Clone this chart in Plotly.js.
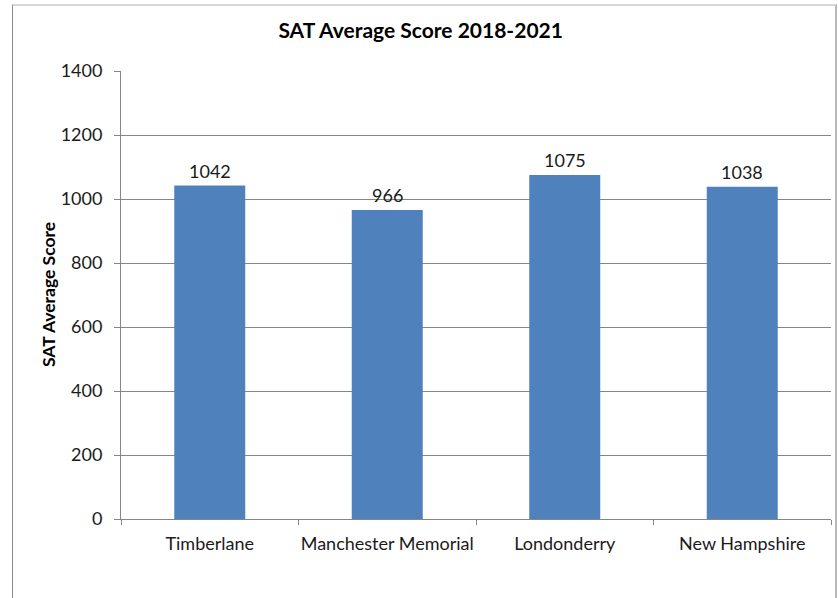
<!DOCTYPE html>
<html>
<head>
<meta charset="utf-8">
<script src="https://cdn.plot.ly/plotly-3.0.1.min.js"></script>
<style>
  html, body { margin: 0; padding: 0; background: #ffffff; }
  #wrap { position: relative; width: 838px; height: 598px; overflow: hidden; }
  #chart { position: absolute; left: 0; top: 0; width: 838px; height: 598px; }
  #frame { position: absolute; left: 12px; top: 4px; width: 822px; height: 640px;
           border-top: 2px solid #d6d6d6; border-left: 1px solid #8c8c8c; border-right: 2px solid #b8b8b8;
           pointer-events: none; }
</style>
</head>
<body>
<div id="wrap">
  <div id="chart"></div>
  <div id="frame"></div>
</div>
<script>
const categories = ["Timberlane", "Manchester Memorial", "Londonderry", "New Hampshire"];
const scores = [1042, 966, 1075, 1038];
const yTicks = [0, 200, 400, 600, 800, 1000, 1200, 1400];

const FONT = "Lato, 'DejaVu Sans', sans-serif";

const trace = {
  type: "bar",
  x: categories,
  y: scores,
  width: 0.4,
  marker: { color: "#4f81bd", line: { width: 0 } },
  hoverinfo: "skip"
};

const valueLabels = categories.map((c, i) => ({
  text: String(scores[i]),
  xref: "x", x: c,
  yref: "y", y: scores[i],
  xanchor: "center", yanchor: "bottom",
  yshift: 2,
  showarrow: false,
  font: { family: FONT, size: 18, color: "#1a1a1a" }
}));

const layout = {
  width: 838,
  height: 598,
  margin: { l: 121, r: 7, t: 71, b: 79 },
  paper_bgcolor: "rgba(0,0,0,0)",
  plot_bgcolor: "#ffffff",
  showlegend: false,
  title: {
    text: "<b>SAT Average Score 2018-2021</b>",
    font: { family: FONT, size: 21, color: "#000000" },
    xref: "container", x: 0.502, xanchor: "center",
    yref: "container", y: 0.948, yanchor: "middle"
  },
  xaxis: {
    type: "category",
    range: [-0.5, 3.5],
    showgrid: false,
    showline: true,
    linecolor: "#868686",
    linewidth: 1,
    ticks: "outside",
    tickson: "boundaries",
    ticklen: 5,
    tickcolor: "#868686",
    tickangle: 0,
    ticklabelstandoff: 8,
    tickfont: { family: FONT, size: 18, color: "#1a1a1a" },
    fixedrange: true
  },
  yaxis: {
    range: [0, 1400],
    tickvals: yTicks,
    ticktext: yTicks.map(String),
    showgrid: true,
    gridcolor: "#868686",
    gridwidth: 1,
    zeroline: false,
    showline: true,
    linecolor: "#868686",
    linewidth: 1,
    ticks: "outside",
    ticklen: 6,
    tickcolor: "#868686",
    ticklabelstandoff: 8,
    tickfont: { family: FONT, size: 18, color: "#1a1a1a" },
    fixedrange: true
  },
  annotations: [{
    text: "<b>SAT Average Score</b>",
    textangle: -90,
    xref: "paper", x: (48 - 121) / 710, xanchor: "center",
    yref: "paper", y: 0.5, yanchor: "middle",
    showarrow: false,
    font: { family: FONT, size: 17.5, color: "#000000" }
  }].concat(valueLabels)
};

Plotly.newPlot("chart", [trace], layout, { displayModeBar: false, staticPlot: true });
</script>
</body>
</html>
